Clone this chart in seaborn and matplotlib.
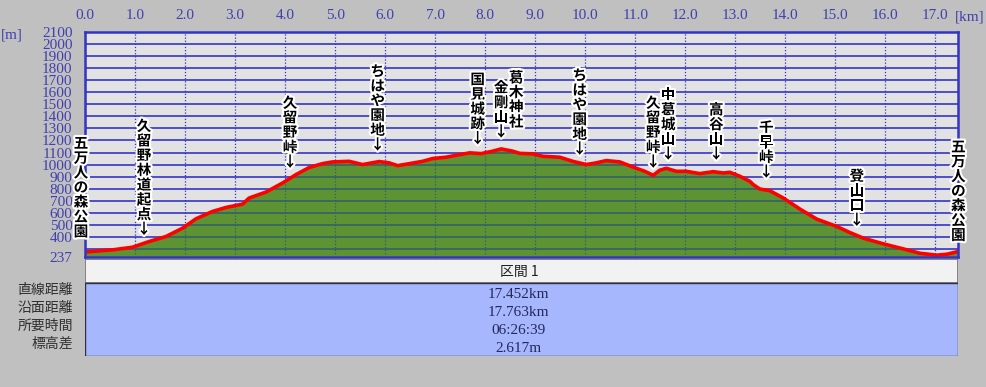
import numpy as np
import pandas as pd
import seaborn as sns
import matplotlib.pyplot as plt
import matplotlib.patheffects as pe
from matplotlib.patches import Rectangle
from matplotlib.transforms import ScaledTranslation

# elevation profile (km, m)
dist_km = [0.0, 0.55, 0.95, 1.28, 1.62, 1.95, 2.22, 2.55, 2.82, 3.15, 3.28, 3.62, 3.95,
           4.22, 4.48, 4.75, 4.95, 5.28, 5.55, 5.88, 6.08, 6.25, 6.49, 6.75, 6.95, 7.22,
           7.42, 7.69, 7.92, 8.15, 8.32, 8.55, 8.69, 8.95, 9.15, 9.49, 9.75, 10.02, 10.22,
           10.42, 10.69, 10.95, 11.19, 11.36, 11.49, 11.62, 11.82, 12.02, 12.29, 12.56,
           12.76, 12.89, 13.09, 13.29, 13.36, 13.49, 13.69, 13.96, 14.29, 14.63, 15.03,
           15.29, 15.56, 15.96, 16.36, 16.69, 17.03, 17.23, 17.45]
elev_m = [275, 292, 314, 361, 403, 472, 550, 611, 644, 672, 722, 772, 847,
          917, 975, 1008, 1022, 1027, 1000, 1025, 1014, 991, 1008, 1027, 1050, 1061,
          1077, 1097, 1091, 1111, 1130, 1111, 1093, 1089, 1069, 1061, 1027, 1000, 1014,
          1033, 1022, 980, 944, 911, 953, 969, 944, 944, 925, 941,
          930, 936, 903, 861, 833, 797, 783, 722, 631, 547, 486,
          436, 389, 342, 300, 264, 248, 256, 278]

# place labels: name, km, elevation of arrow tip, has arrow
spot_names = ['五万人の森公園', '久留野林道起点', '久留野峠', 'ちはや園地', '国見城跡', '金剛山',
              '葛木神社', 'ちはや園地', '久留野峠', '中葛城山', '高谷山', '千早峠', '登山口',
              '五万人の森公園']
spot_km = [-0.08, 1.18, 4.10, 5.85, 7.85, 8.32, 8.62, 9.89, 11.36, 11.66, 12.62, 13.62, 15.43, 17.46]
spot_elev = [380, 400, 958, 1100, 1152, 1208, 1291, 1066, 958, 1025, 1025, 875, 475, 350]
spot_arrow = [False, True, True, True, True, True, False, True, True, True, True, True, True, False]

km_ticks = list(range(0, 18))
elev_labels = [237] + list(range(400, 2200, 100))
elev_grid = list(range(300, 2200, 100))

table_rows = ['直線距離', '沿面距離', '所要時間', '標高差']
table_vals = ['17.452km', '17.763km', '06:26:39', '2.617m']
table_head = '区間 1'

sns.set_theme(style='white')
plt.rcParams['font.family'] = ['Noto Sans CJK JP', 'DejaVu Sans']

W, H = 986, 387
fig = plt.figure(figsize=(W / 100, H / 100), dpi=100)
fig.patch.set_facecolor('#c0c0c0')

ax = fig.add_axes([85 / W, 1 - 256.5 / H, 873 / W, 224.5 / H])
ax.set_facecolor('#e2e2e2')
ax.set_xlim(0, 17.452)
ax.set_ylim(237, 2100)

grid_blue = '#3434c4'
df = pd.DataFrame({'km': dist_km, 'm': elev_m})
fill = ax.fill_between(df['km'], 237, df['m'], color='#5e9334', lw=0, zorder=2)
sns.lineplot(data=df, x='km', y='m', ax=ax, color='#ff0000', lw=2.6, zorder=4)

# grid drawn on minor ticks (keep those that sit on labelled ticks)
ax.xaxis.remove_overlapping_locs = False
ax.yaxis.remove_overlapping_locs = False
ax.set_yticks(elev_grid, minor=True)
ax.set_xticks(km_ticks, minor=True)
ax.grid(which='minor', axis='y', color=grid_blue, lw=1.2, zorder=1)
ax.grid(which='minor', axis='x', color=grid_blue, lw=0.9, ls=(0, (1, 1.5)), zorder=1)
ax.set_axisbelow(True)
# grid seen through the green fill
for lv in elev_grid:
    ln = ax.axhline(lv, color='#2f5e6a', lw=1.1, zorder=3)
    ln.set_clip_path(fill.get_paths()[0], ax.transData)
for k in km_ticks[1:]:
    ln = ax.axvline(k, color='#2f5e6a', lw=0.9, ls=(0, (1, 1.5)), zorder=3)
    ln.set_clip_path(fill.get_paths()[0], ax.transData)

tick_font = dict(family='Liberation Serif', size=11, color='#4040b0')
ax.xaxis.tick_top()
ax.set_xticks(km_ticks)
ax.set_xticklabels([f'{k:.1f}' for k in km_ticks], fontdict=tick_font)
ax.xaxis.get_majorticklabels()[0].set_transform(
    ax.xaxis.get_majorticklabels()[0].get_transform() + ScaledTranslation(0.1, 0, fig.dpi_scale_trans))
ax.set_yticks(elev_labels)
ax.set_yticklabels([str(v) for v in elev_labels], fontdict=tick_font)
ax.tick_params(which='both', length=0)
ax.tick_params(axis='x', pad=7)
ax.tick_params(axis='y', pad=9)
ax.set_xlabel('')
ax.set_ylabel('')
for s in ax.spines.values():
    s.set_color(grid_blue)
    s.set_linewidth(1.8)
    s.set_zorder(6)

fig.text(970 / W, 1 - 17 / H, '[km]', ha='center', va='center', **tick_font)
fig.text(12 / W, 1 - 35 / H, '[m]', ha='center', va='center', **tick_font)

halo = [pe.withStroke(linewidth=3, foreground='white')]
for name, k, e, arr in zip(spot_names, spot_km, spot_elev, spot_arrow):
    txt = '\n'.join(list(name)) + ('\n↓' if arr else '')
    ax.text(k, e, txt, ha='center', va='bottom', fontsize=10.5, fontweight='bold',
            color='black', linespacing=0.9, path_effects=halo, zorder=7, clip_on=False)

# summary table under the chart
tax = fig.add_axes([85 / W, 1 - 356 / H, 873 / W, 97 / H])
tax.set_xlim(0, 1)
tax.set_ylim(97, 0)
tax.axis('off')
tax.add_patch(Rectangle((0, 0), 1, 24, facecolor='#f2f2f2', edgecolor='#707070', lw=1.2))
tax.add_patch(Rectangle((0, 24), 1, 73, facecolor='#a6b7fe', edgecolor='#303040', lw=1.0))
tax.text(0.497, 13, table_head, ha='center', va='center', fontsize=10, color='#202020')
row_y = [35, 53, 71, 89]
for lab, val, y in zip(table_rows, table_vals, row_y):
    tax.text(0.497, y, val, ha='center', va='center', family='Liberation Serif',
             fontsize=11, color='#22285a')
    fig.text(73 / W, 1 - (255 + y) / H, lab, ha='right', va='center', fontsize=10, color='#303030')

fig.savefig('out.png', dpi=100, facecolor=fig.get_facecolor())
